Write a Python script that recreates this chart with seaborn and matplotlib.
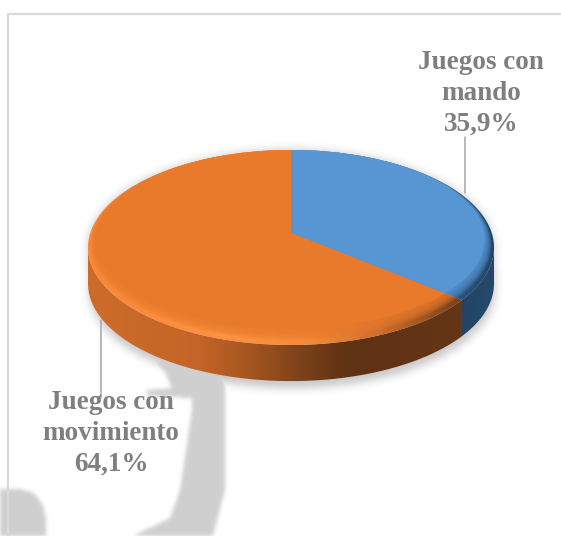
import numpy as np
import seaborn as sns
import matplotlib
matplotlib.use("Agg")
import matplotlib.pyplot as plt
from matplotlib.patches import Ellipse, Polygon
from matplotlib.path import Path

# Share of each game type
categories = ["Juegos con\nmando", "Juegos con\nmovimiento"]
shares = [35.9, 64.1]
share_labels = ["35,9%", "64,1%"]
face_colors = ["#5795D3", "#E97A2C"]

sns.set_theme(style="white")
W, H = 561, 536
CX, CY, RX, RY = 291, 247.5, 203, 97.5   # disc ellipse, in pixels
TIP = 0.149                              # wedge apex sits above the ellipse centre
DEPTH = 0.37                             # disc thickness in radii of the y axis


def px_x(x):
    return (x - CX) / RX


def px_y(y):
    return (CY - y) / RY


def blur(a, sigma):
    r = int(3 * sigma)
    k = np.exp(-0.5 * (np.arange(-r, r + 1) / sigma) ** 2)
    k /= k.sum()
    a = np.apply_along_axis(lambda v: np.convolve(v, k, mode="same"), 0, a)
    return np.apply_along_axis(lambda v: np.convolve(v, k, mode="same"), 1, a)


def raster(points):
    xx, yy = np.meshgrid(np.arange(W) + 0.5, np.arange(H) + 0.5)
    grid = np.c_[xx.ravel(), yy.ravel()]
    return Path(points).contains_points(grid).reshape(H, W).astype(float)


def arc(a0, a1, n=200, dy=0.0):
    t = np.radians(np.linspace(a0, a1, n))
    return np.c_[np.cos(t), np.sin(t) - dy]


def ramp(stops):
    xs = np.arange(W)
    return np.stack([np.interp(xs, [s[0] for s in stops], [s[1][i] for s in stops]) / 255
                     for i in range(3)], axis=-1)[None, :, :]


fig = plt.figure(figsize=(W / 100, H / 100), dpi=100)

# Page background: frame, soft grey silhouette and the disc's drop shadow
bg_ax = fig.add_axes([0, 0, 1, 1], zorder=0)
bg_ax.axis("off")

figure_shape = raster([(150, 358), (225, 358), (225, 490), (213, 536), (213, 548), (120, 548),
                       (133, 536), (170, 518), (180, 490), (192, 410), (192, 398), (147, 396),
                       (147, 390), (172, 388), (165, 372)])
blob_shape = raster([(-20, 489), (20, 489), (34, 493), (43, 505), (46, 520), (46, 548), (-20, 548)])
shade = blur(figure_shape, 2.0) * 0.19 + blur(blob_shape, 2.0) * 0.19

t = np.linspace(0, 2 * np.pi, 400)
shadow_pts = np.r_[np.c_[CX + RX * np.cos(t[:200]) + 1, CY + RY * np.sin(t[:200]) + DEPTH * RY + 7],
                   np.c_[CX + RX * np.cos(t[200:]), CY + RY * np.sin(t[200:])]]
disc_shadow = blur(raster(shadow_pts), 4.5) * 0.22
tone = 1 - np.clip(np.maximum(shade, disc_shadow), 0, 1)
bg_ax.imshow(tone, cmap="gray", vmin=0, vmax=1, extent=(0, W, H, 0), aspect="auto", zorder=0)
bg_ax.plot([8.5, 8.5], [13.5, H], color="#D9D9D9", lw=1.5, zorder=1)
bg_ax.plot([8.5, W], [13.5, 13.5], color="#D9D9D9", lw=1.5, zorder=1)
bg_ax.set_xlim(0, W)
bg_ax.set_ylim(H, 0)

# Disc, in coordinates where one unit is one radius of the ellipse
ax = fig.add_axes([0, 0, 1, 1], zorder=1)
ax.patch.set_alpha(0)

limits = (px_x(0), px_x(W)), (px_y(H), px_y(0))
extent = (limits[0][0], limits[0][1], limits[1][0], limits[1][1])

frac = shares[0] / sum(shares)
ray = np.radians(90 - 360 * frac)
dx, dy = np.cos(ray), np.sin(ray)
b = TIP * dy
s = -b + np.sqrt(b * b - (TIP * TIP - 1))
split = np.degrees(np.arctan2(TIP + s * dy, s * dx))

# Side wall
side_blue = np.r_[arc(split, 0), arc(0, split, dy=DEPTH)]
side_orange = np.r_[arc(-180, split), arc(split, -180, dy=DEPTH)]
blue_side = ramp([(440, (38, 66, 96)), (494, (36, 72, 108))])
orange_side = ramp([(88, (205, 108, 42)), (200, (196, 100, 38)), (250, (165, 85, 32)),
                    (300, (125, 66, 26)), (345, (96, 50, 20)), (460, (100, 54, 22))])
for pts, img in [(side_orange, orange_side), (side_blue, blue_side)]:
    im = ax.imshow(img, extent=extent, aspect="auto", interpolation="bilinear", zorder=1)
    im.set_clip_path(Polygon(pts, closed=True, transform=ax.transData))

# Bevel running round the rim of the top face
top_blue = np.r_[[(0, TIP)], arc(90, split)]
top_orange = np.r_[[(0, TIP)], arc(split, -270)]
blue_rim = ramp([(291, (84, 146, 208)), (400, (70, 125, 182)), (460, (44, 84, 124)), (494, (36, 70, 106))])
orange_rim = ramp([(88, (246, 136, 56)), (220, (252, 146, 66)), (310, (246, 138, 58)),
                   (380, (205, 110, 44)), (460, (120, 64, 26))])
for pts, img in [(top_orange, orange_rim), (top_blue, blue_rim)]:
    im = ax.imshow(img, extent=extent, aspect="auto", interpolation="bilinear", zorder=2)
    im.set_clip_path(Polygon(pts, closed=True, transform=ax.transData))

# Flat top face, feathered into the bevel
steps = np.linspace(0.3, 1.0, 10)
for i, step in enumerate(steps):
    wedges, _ = ax.pie(shares, colors=face_colors, startangle=90, counterclock=False,
                       center=(0, TIP), radius=2.2,
                       wedgeprops=dict(linewidth=0, alpha=0.2 if i < len(steps) - 1 else 1.0))
    clip = Ellipse((0, 0.085 * step), 2 * (1 - 0.045 * step), 2 * (1 - 0.085 * step),
                   transform=ax.transData)
    for w in wedges:
        w.set_zorder(3 + i)
        w.set_clip_on(True)
        w.set_clip_path(clip)

ax.set_aspect("auto")
ax.set_xlim(*limits[0])
ax.set_ylim(*limits[1])
ax.axis("off")

# Labels and leader lines
tx = fig.add_axes([0, 0, 1, 1], zorder=2)
tx.patch.set_alpha(0)
tx.set_xlim(0, W)
tx.set_ylim(H, 0)
tx.axis("off")
tx.plot([465.5, 465.5], [137, 193], color="#A6A6A6", lw=1.1)
tx.plot([101.5, 101.5], [320, 398], color="#A6A6A6", lw=1.1)
font = dict(family="Liberation Serif", fontweight="bold", color="#7F7F7F", fontsize=19.5,
            ha="center", va="center", linespacing=1.31)
tx.text(481, 93, f"{categories[0]}\n{share_labels[0]}", **font)
tx.text(111, 433, f"{categories[1]}\n{share_labels[1]}", **font)

fig.savefig("out.png", dpi=100)
